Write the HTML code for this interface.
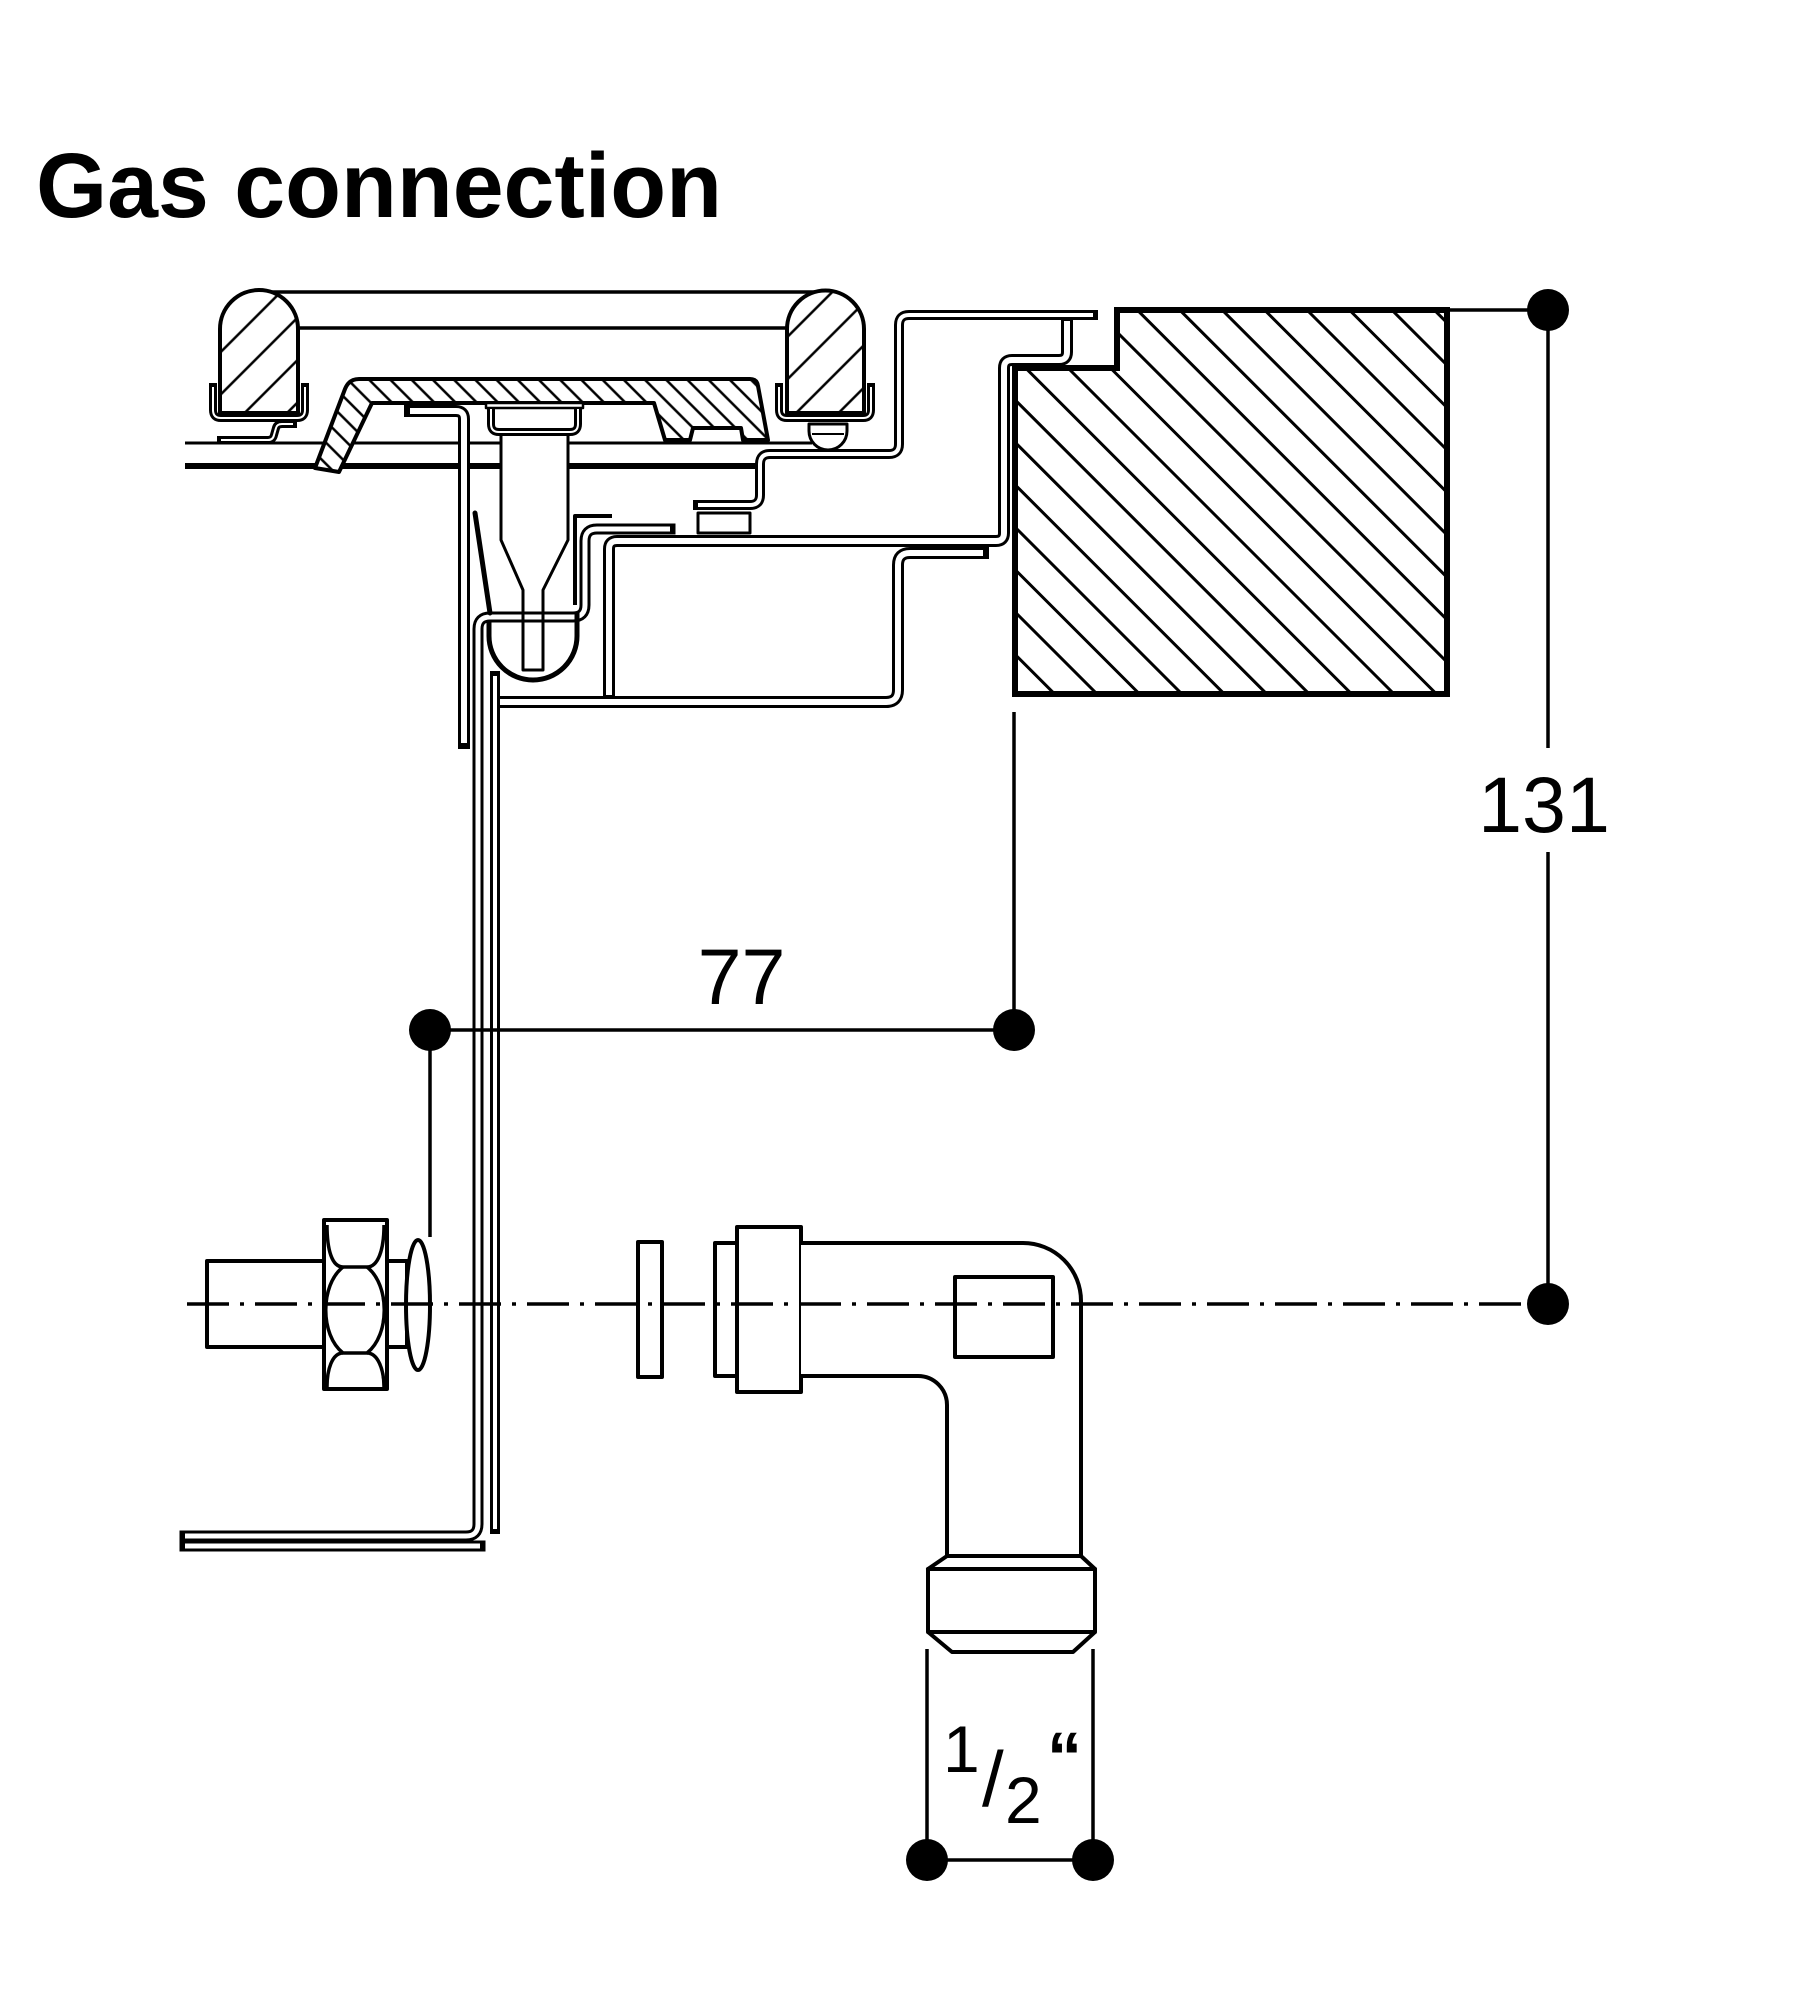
<!DOCTYPE html>
<html><head><meta charset="utf-8"><style>html,body{margin:0;padding:0;background:#fff}svg{display:block}</style></head>
<body>
<svg width="1803" height="2000" viewBox="0 0 1803 2000" xmlns="http://www.w3.org/2000/svg">
<defs>
<pattern id="hw" patternUnits="userSpaceOnUse" width="30" height="30" patternTransform="rotate(-45)"><rect width="30" height="30" fill="#fff"/><line x1="15" y1="0" x2="15" y2="30" stroke="#000" stroke-width="3"/></pattern>
<pattern id="hc" patternUnits="userSpaceOnUse" width="15" height="15" patternTransform="rotate(-45)"><rect width="15" height="15" fill="#fff"/><line x1="7.5" y1="0" x2="7.5" y2="15" stroke="#000" stroke-width="2.5"/></pattern>
<pattern id="hg" patternUnits="userSpaceOnUse" width="30" height="30" patternTransform="rotate(45)"><rect width="30" height="30" fill="#fff"/><line x1="15" y1="0" x2="15" y2="30" stroke="#000" stroke-width="2.5"/></pattern>
</defs>
<rect width="1803" height="2000" fill="#fff"/>

<text x="36" y="217" font-family="Liberation Sans, Arial, sans-serif" font-weight="bold" font-size="92" textLength="686" lengthAdjust="spacingAndGlyphs">Gas connection</text>

<g fill="none" stroke="#000" stroke-linejoin="round">
<!-- hob top lines -->
<line x1="185" y1="443" x2="812" y2="443" stroke-width="3"/>
<line x1="185" y1="466" x2="756" y2="466" stroke-width="6"/>

<!-- grate -->
<line x1="259" y1="292" x2="826" y2="292" stroke-width="3.5"/>
<line x1="298" y1="328" x2="787" y2="328" stroke-width="3.5"/>
<path d="M220,413 V329 A39,39 0 0 1 298,329 V413 Z" fill="url(#hg)" stroke-width="4"/>
<path d="M787,413 V329 A38.5,38.5 0 0 1 864,329 V413 Z" fill="url(#hg)" stroke-width="4"/>

<!-- clips -->
<path d="M213,387 V410 Q213,418 221,418 H297 Q305,418 305,410 V387" stroke-width="8" stroke-linecap="square"/>
<path d="M213,387 V410 Q213,418 221,418 H297 Q305,418 305,410 V387" stroke="#fff" stroke-width="2"/>
<path d="M779,387 V410 Q779,418 787,418 H863 Q871,418 871,410 V387" stroke-width="8" stroke-linecap="square"/>
<path d="M779,387 V410 Q779,418 787,418 H863 Q871,418 871,410 V387" stroke="#fff" stroke-width="2"/>
<path d="M221,440 H268 Q273,440 274,435 L276,428 Q277,424 282,424 H293" stroke-width="8" stroke-linecap="square"/>
<path d="M221,440 H268 Q273,440 274,435 L276,428 Q277,424 282,424 H293" stroke="#fff" stroke-width="2"/>

<!-- burner cap -->
<path d="M315,468 L345,389 Q349,379 359,379 H750 Q757,379 758,386 L768,440 H743 L741,428 H693 L690,440 H665 L654,403 H372 L339,472 Z" fill="url(#hc)" stroke-width="4"/>

<!-- L bracket -->
<path d="M410,411 H456 Q464,411 464,419 V743" stroke-width="12" stroke-linecap="square"/>
<path d="M410,411 H456 Q464,411 464,419 V743" stroke="#fff" stroke-width="6"/>

<!-- injector -->
<path d="M501,432 V540 L523,590 V670 H543 V590 L568,540 V432" fill="#fff" stroke-width="3"/>
<rect x="486" y="403" width="97" height="5" fill="#fff" stroke-width="2.5"/>
<path d="M491,409 V424 Q491,432 499,432 H570 Q578,432 578,424 V409" stroke-width="8" stroke-linecap="butt"/>
<path d="M491,409 V424 Q491,432 499,432 H570 Q578,432 578,424 V409" stroke="#fff" stroke-width="2"/>

<!-- frame sheet -->
<path d="M1067,321 V352 Q1067,360 1059,360 H1012 Q1004,360 1004,368 V533 Q1004,541 996,541 H617 Q609,541 609,549 V695" stroke-width="12" stroke-linecap="square"/>
<path d="M1067,321 V352 Q1067,360 1059,360 H1012 Q1004,360 1004,368 V533 Q1004,541 996,541 H617 Q609,541 609,549 V695" stroke="#fff" stroke-width="6"/>

<!-- bottom sheet -->
<path d="M500,702 H886 Q898,702 898,690 V565 Q898,553 910,553 H983" stroke-width="12" stroke-linecap="square"/>
<path d="M500,702 H886 Q898,702 898,690 V565 Q898,553 910,553 H983" stroke="#fff" stroke-width="6"/>

<!-- L/Z sheet -->
<path d="M670,529 H597 Q585,529 585,541 V605 Q585,617 573,617 H490 Q478,617 478,629 V1524 Q478,1536 466,1536 H185" stroke-width="11" stroke-linecap="square"/>
<path d="M670,529 H597 Q585,529 585,541 V605 Q585,617 573,617 H490 Q478,617 478,629 V1524 Q478,1536 466,1536 H185" stroke="#fff" stroke-width="5"/>
<path d="M185,1546 H480" stroke-width="11" stroke-linecap="square"/>
<path d="M185,1546 H480" stroke="#fff" stroke-width="5"/>
<path d="M612,516 H575 V605" stroke-width="4"/>

<!-- separate strip -->
<path d="M495,676 V1529" stroke-width="10" stroke-linecap="square"/>
<path d="M495,676 V1529" stroke="#fff" stroke-width="4"/>

<!-- injector U and slanted line -->
<path d="M489,622 V636 A44,44 0 0 0 577,636 V612" stroke-width="5"/>
<line x1="523" y1="600" x2="523" y2="670" stroke-width="3"/>
<line x1="543" y1="600" x2="543" y2="670" stroke-width="3"/>
<path d="M475,513 L490,613" stroke-width="5" stroke-linecap="round"/>

<!-- hob right Z-sheet -->
<path d="M698,505 H750 Q760,505 760,495 V464 Q760,454 770,454 H889 Q899,454 899,444 V325 Q899,315 909,315 H1093" stroke-width="10" stroke-linecap="square"/>
<path d="M698,505 H750 Q760,505 760,495 V464 Q760,454 770,454 H889 Q899,454 899,444 V325 Q899,315 909,315 H1093" stroke="#fff" stroke-width="4"/>

<!-- ball -->
<path d="M809,424 H847 V431 A19,19 0 0 1 809,431 Z" fill="#fff" stroke-width="3"/>
<line x1="812" y1="434" x2="844" y2="434" stroke-width="2"/>

<!-- small rect -->
<rect x="698" y="513" width="52" height="20" fill="#fff" stroke-width="3"/>

<!-- wood block -->
<path d="M1117,310 H1447 V694 H1015 V368 H1117 Z" fill="url(#hw)" stroke-width="6" stroke-linejoin="miter"/>

<!-- fittings -->
<rect x="207" y="1261" width="118" height="86" fill="#fff" stroke-width="4"/>
<rect x="324" y="1220" width="63" height="169" fill="#fff" stroke-width="4"/>
<path d="M327,1225 C327,1250 332,1267 343,1267 H367 C378,1267 384,1250 384,1225" stroke-width="3.5"/>
<path d="M343,1267 C320,1285 320,1335 343,1353 H367 C390,1335 390,1285 367,1267" stroke-width="3.5"/>
<path d="M343,1353 C332,1353 327,1370 327,1387 M367,1353 C378,1353 384,1370 384,1387" stroke-width="3.5"/>
<rect x="387" y="1261" width="20" height="86" fill="#fff" stroke-width="4"/>
<ellipse cx="418" cy="1305" rx="12" ry="65" fill="#fff" stroke-width="4"/>
<rect x="638" y="1242" width="24" height="135" fill="#fff" stroke-width="4"/>
<rect x="715" y="1243" width="22" height="133" fill="#fff" stroke-width="4"/>
<rect x="737" y="1227" width="64" height="165" fill="#fff" stroke-width="4"/>
<path d="M801,1243 H1023 A58,58 0 0 1 1081,1301 V1556 H947 V1405 A29,29 0 0 0 918,1376 H801" fill="#fff" stroke-width="4"/>
<rect x="955" y="1277" width="98" height="80" fill="#fff" stroke-width="4"/>
<path d="M947,1556 L928,1569 H1095 L1081,1556" stroke-width="4"/>
<rect x="928" y="1569" width="167" height="63" fill="#fff" stroke-width="4"/>
<path d="M928,1632 L952,1652 H1073 L1095,1632" stroke-width="4"/>

<!-- center line -->
<line x1="187" y1="1304" x2="1548" y2="1304" stroke-width="3.5" stroke-dasharray="42 11 4 11"/>

<!-- dimensions -->
<line x1="1447" y1="310" x2="1548" y2="310" stroke-width="3.5"/>
<line x1="1548" y1="310" x2="1548" y2="748" stroke-width="3.5"/>
<line x1="1548" y1="852" x2="1548" y2="1304" stroke-width="3.5"/>
<line x1="1014" y1="712" x2="1014" y2="1030" stroke-width="3.5"/>
<line x1="430" y1="1030" x2="1014" y2="1030" stroke-width="3.5"/>
<line x1="430" y1="1030" x2="430" y2="1237" stroke-width="3.5"/>
<line x1="927" y1="1649" x2="927" y2="1860" stroke-width="3.5"/>
<line x1="1093" y1="1649" x2="1093" y2="1860" stroke-width="3.5"/>
<line x1="927" y1="1860" x2="1093" y2="1860" stroke-width="3.5"/>
</g>

<g fill="#000">
<circle cx="1548" cy="310" r="21"/>
<circle cx="1548" cy="1304" r="21"/>
<circle cx="430" cy="1030" r="21"/>
<circle cx="1014" cy="1030" r="21"/>
<circle cx="927" cy="1860" r="21"/>
<circle cx="1093" cy="1860" r="21"/>
</g>

<g font-family="Liberation Sans, Arial, sans-serif" fill="#000">
<text x="1544" y="832" font-size="79" text-anchor="middle">131</text>
<text x="741.5" y="1004" font-size="79" text-anchor="middle">77</text>
<text x="943" y="1772" font-size="66">1</text>
<text x="982" y="1806" font-size="78">/</text>
<text x="1005" y="1823" font-size="66">2</text>
<text x="1047" y="1781" font-size="70" font-weight="bold">“</text>
</g>
</svg>
</body></html>
